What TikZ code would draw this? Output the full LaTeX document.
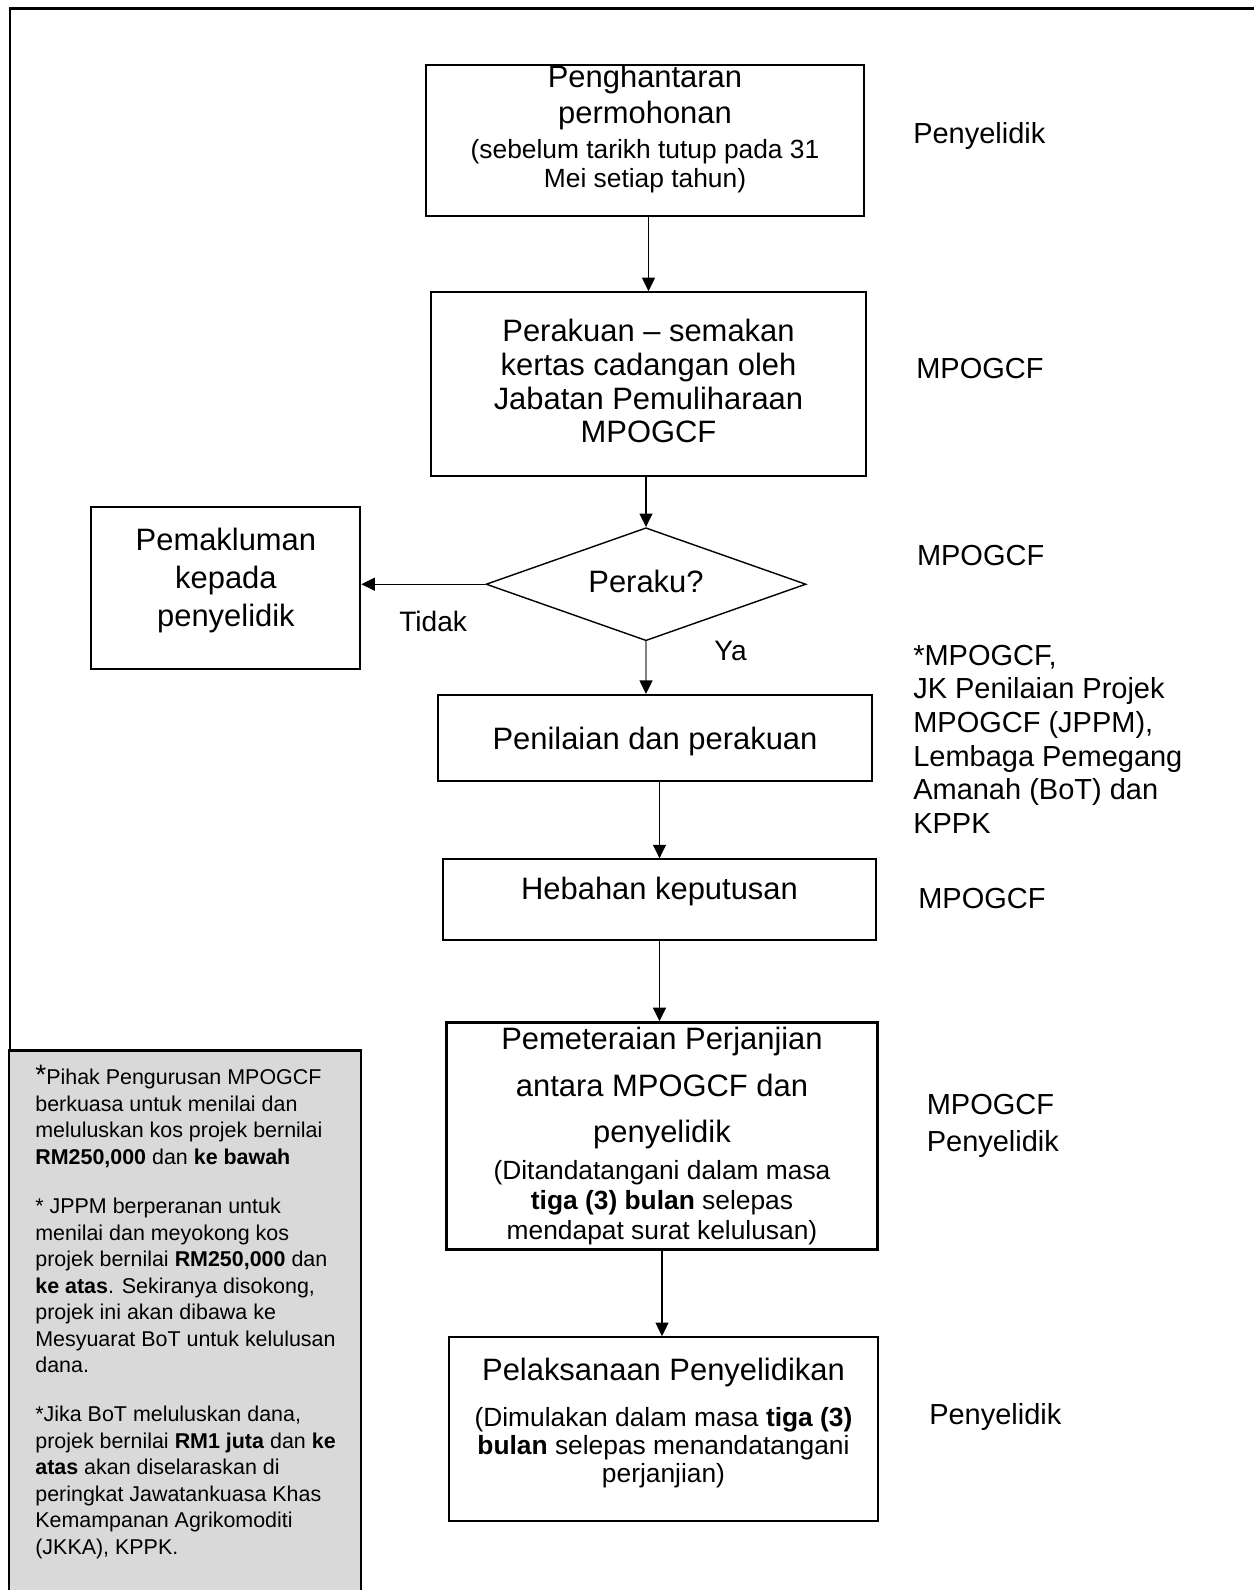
\documentclass[tikz,border=0pt]{standalone}
\usepackage{fontspec}
\setmainfont{Liberation Sans}
\usepackage{tikz}
\usetikzlibrary{arrows.meta,positioning,shapes.geometric}

\definecolor{notegray}{RGB}{217,217,217}
\newcommand{\flowfont}[1]{\fontsize{17.6}{#1}\selectfont}
\newcommand{\subtxt}{\fontsize{15}{17}\selectfont}
\newcommand{\sidefont}{\fontsize{16.5}{19.1}\selectfont}
\newcommand{\notefont}{\fontsize{12.2}{15.1}\selectfont}
\newcommand{\lowstrut}[1]{\rule[-#1]{0pt}{#1}}

\begin{document}
\begin{tikzpicture}[x=0.02cm,y=-0.02cm,>={Triangle[width=0.26cm,length=0.27cm]},auto]
		\tikzstyle{box}=[rectangle, draw=black, line width=1.1pt, align=center, inner sep=0pt]
		\tikzstyle{choice}=[diamond, draw=black, line width=0.8pt, aspect=2.83, inner sep=1pt, minimum width=6.4cm, minimum height=2.26cm]
		\tikzstyle{side}=[align=left, inner sep=0pt, font=\sidefont]
		\tikzstyle{lab}=[inner sep=0pt, font=\fontsize{16}{18}\selectfont]
		\tikzstyle{note}=[align=left, inner sep=0pt, font=\notefont]
		\tikzstyle{flow}=[->, line width=0.7pt]
		\tikzstyle{yesflow}=[line width=0.7pt, draw=gray, -{Triangle[width=0.26cm,length=0.27cm,color=black]}]

		\useasboundingbox (0,0) rectangle (1254,1590);
		\clip (0,0) rectangle (1254,1590);

		% frame and grey note panel
		\draw [line width=1.7pt] (10,1050) -- (10,8) -- (1270,8);
		\draw [line width=1.7pt, fill=notegray] (9,1650) -- (9,1050) -- (361,1050) -- (361,1650);

		% main flow
		\node [box, font={\flowfont{20.5pt}}, minimum width=8.76cm, minimum height=3.02cm] (b1) at (645,140.5)
			{Penghantaran\\permohonan\\[-0.6pt]{\subtxt (sebelum tarikh tutup pada 31}\\[-4pt]{\subtxt Mei setiap tahun)\lowstrut{0.58cm}}};
		\node [box, font={\flowfont{19.2pt}}, minimum width=8.7cm, minimum height=3.68cm] (b2) [below=1.48cm of b1, xshift=0.07cm]
			{Perakuan – semakan\\kertas cadangan oleh\\Jabatan Pemuliharaan\\MPOGCF\lowstrut{0.12cm}};
		\node [choice, font={\flowfont{20pt}}] (d) [below=1cm of b2, xshift=-0.05cm] {Peraku?\lowstrut{0.12cm}};
		\node [box, font={\flowfont{21.6pt}}, minimum width=5.38cm, minimum height=3.24cm] (lb) [left=2.48cm of d, yshift=-0.08cm]
			{Pemakluman\\kepada\\penyelidik\lowstrut{0.45cm}};
		\node [box, font={\flowfont{20pt}}, minimum width=8.68cm, minimum height=1.73cm] (b3) [below=1.05cm of d, xshift=0.18cm]
			{\rule{0pt}{0.6cm}Penilaian dan perakuan};
		\node [box, font={\flowfont{20pt}}, minimum width=8.66cm, minimum height=1.62cm] (b4) [below=1.52cm of b3, xshift=0.09cm]
			{Hebahan keputusan\lowstrut{0.47cm}};
		\node [box, line width=1.7pt, font={\flowfont{26.7pt}}, minimum width=8.64cm, minimum height=4.54cm] (b5) [below=1.6cm of b4, xshift=0.05cm]
			{Pemeteraian Perjanjian\\antara MPOGCF dan\\penyelidik\\[-5.7pt]{\subtxt (Ditandatangani dalam masa}\\[-9.7pt]{\subtxt\textbf{tiga (3) bulan} selepas}\\[-9.7pt]{\subtxt mendapat surat kelulusan)\lowstrut{0.12cm}}};
		\node [box, font={\flowfont{15.9pt}}, minimum width=8.58cm, minimum height=3.67cm] (b6) [below=1.7cm of b5, xshift=0.03cm]
			{Pelaksanaan Penyelidikan\\[10.2pt]{\subtxt (Dimulakan dalam masa \textbf{tiga (3)}}\\{\subtxt\textbf{bulan} selepas menandatangani}\\{\subtxt perjanjian)\lowstrut{0.35cm}}};

		\draw [flow] (b2.north |- b1.south) -- (b2.north);
		\draw [flow] (d.north |- b2.south) -- (d.north);
		\draw [flow] (d.west) -- (lb.east |- d.west);
		\draw [yesflow] (d.south) -- (d.south |- b3.north);
		\draw [flow] (b4.north |- b3.south) -- (b4.north);
		\draw [flow] (b4.south) -- (b4.south |- b5.north);
		\draw [flow] (b5.south) -- (b5.south |- b6.north);

		\node [lab] (no) [below left=0.54cm and 0.36cm of d.west] {Tidak};
		\node [lab] (yes) [below right=0cm and 1.36cm of d.south, yshift=0.02cm] {Ya};

		% who is responsible
		\node [side] (r1) [right=0.96cm of b1, yshift=0.09cm] {Penyelidik};
		\node [side] (r2) [right=0.98cm of b2, yshift=0.32cm] {MPOGCF};
		\node [side] (r3) [right=2.2cm of d, yshift=0.57cm] {MPOGCF};
		\node [side] (r4) [right=0.8cm of b3, yshift=-0.02cm]
			{*MPOGCF,\\JK Penilaian Projek\\MPOGCF (JPPM),\\Lembaga Pemegang\\Amanah (BoT) dan\\KPPK};
		\node [side] (r5) [right=0.82cm of b4, yshift=0.03cm] {MPOGCF};
		\node [side] (r6) [right=0.94cm of b5, yshift=0.21cm] {MPOGCF\\[1.9pt]Penyelidik};
		\node [side] (r7) [right=1cm of b6, yshift=0.23cm] {Penyelidik};

		\node [note, anchor=north west] (nt) at (35,1065)
			{{\fontsize{16}{15}\selectfont *}Pihak Pengurusan MPOGCF\\
			berkuasa untuk menilai dan\\
			meluluskan kos projek bernilai\\
			\textbf{RM250,000} dan \textbf{ke bawah}\\[12.9pt]
			* JPPM berperanan untuk\\
			menilai dan meyokong kos\\
			projek bernilai \textbf{RM250,000} dan\\
			\textbf{ke atas}. Sekiranya disokong,\\
			projek ini akan dibawa ke\\
			Mesyuarat BoT untuk kelulusan\\
			dana.\\[12.9pt]
			*Jika BoT meluluskan dana,\\
			projek bernilai \textbf{RM1 juta} dan \textbf{ke}\\
			\textbf{atas} akan diselaraskan di\\
			peringkat Jawatankuasa Khas\\
			Kemampanan Agrikomoditi\\
			(JKKA), KPPK.};
	\end{tikzpicture}
\end{document}
